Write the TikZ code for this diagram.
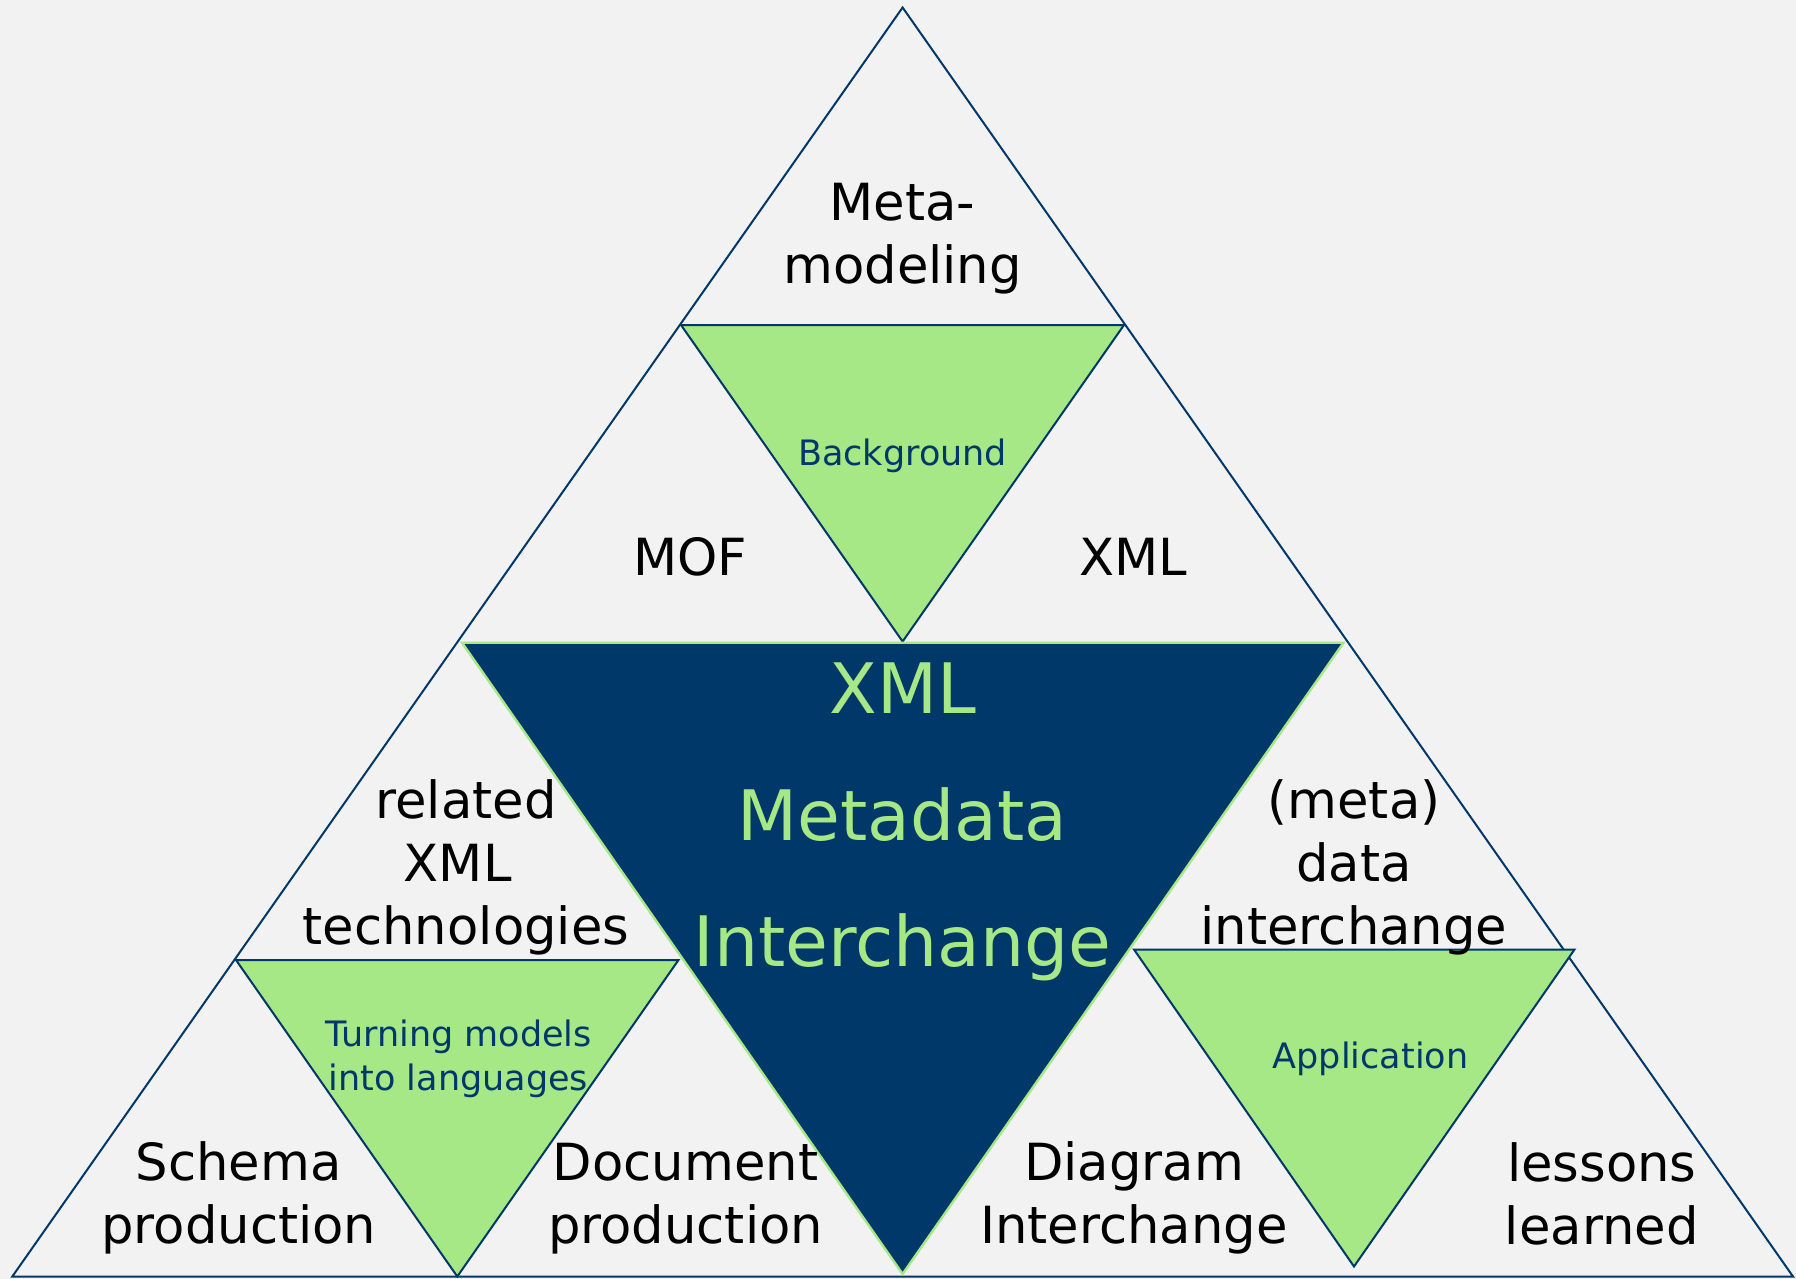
\documentclass[tikz,border=0pt]{standalone}
\usepackage{fontspec}
\setmainfont{DejaVu Sans}
\definecolor{navy}{RGB}{0,56,106}
\definecolor{leaf}{RGB}{166,232,134}
\definecolor{paper}{RGB}{242,242,242}

\begin{document}
\begin{tikzpicture}[x=0.5pt,y=-0.5pt,
  frame/.style={draw=navy,line width=1pt,line join=miter},
  greentri/.style={fill=leaf,draw=navy,line width=1pt,line join=miter},
  coretri/.style={fill=navy,draw=leaf,line width=1.2pt,line join=miter},
  lbl/.style={anchor=base,align=center,inner sep=0pt,text=black,
    font=\fontsize{25.6}{31.5}\selectfont},
  sublbl/.style={anchor=base,align=center,inner sep=0pt,text=navy,
    font=\fontsize{17.5}{22}\selectfont},
  corelbl/.style={anchor=base,inner sep=0pt,text=leaf,
    font=\fontsize{34.8}{40}\selectfont}]

% canvas
\fill[paper] (0,0) rectangle (1796,1279);
\useasboundingbox (0,0) rectangle (1796,1279);

% outer pyramid
\coordinate (apex) at (902.6,7.5);
\coordinate (bl) at (12.3,1276.5);
\coordinate (br) at (1793,1276.5);
\draw[frame] (apex) -- (bl) -- (br) -- cycle;

% inverted triangles
\coordinate (t1) at (681,325);   \coordinate (t2) at (1124,325);   \coordinate (t3) at (902.6,641.5);
\coordinate (l1) at (236,960);   \coordinate (l2) at (678.5,960);  \coordinate (l3) at (457.3,1276.5);
\coordinate (r1) at (1134,949.5);\coordinate (r2) at (1574.5,949.5);\coordinate (r3) at (1354,1266.5);
\coordinate (c1) at (462,642.7); \coordinate (c2) at (1343.5,642.7);\coordinate (c3) at (902.6,1274);

\draw[greentri] (t1) -- (t2) -- (t3) -- cycle;
\draw[greentri] (l1) -- (l2) -- (l3) -- cycle;
\draw[greentri] (r1) -- (r2) -- (r3) -- cycle;
\draw[coretri] (c1) -- (c2) -- (c3) -- cycle;

% labels (multi-line nodes sit on the baseline of their last line)
\node[lbl] (meta) at (902.6,283.3) {Meta-\\modeling};
\node[lbl] (mof) at (690,575) {MOF};
\node[lbl] (xml) at (1133,575) {XML};
\node[sublbl] (bg) at (902.6,465) {Background};

\node[lbl] (rel) at (466,944.3) {related\\XML\kern8.3pt\\technologies};
\node[lbl] (dix) at (1354,944.3) {(meta)\\data\\interchange};

\node[sublbl] (turn) at (458.5,1090.7) {Turning models\\into languages};
\node[sublbl] (app) at (1370.5,1068.3) {Application};

\node[lbl] (schema) at (238.7,1243.3) {Schema\\production};
\node[lbl] (doc) at (685.5,1243.3) {Document\\production};
\node[lbl] (dia) at (1134,1243.3) {Diagram\\Interchange};
\node[lbl] (les) at (1601.8,1244.5) {lessons\\learned};

\node[corelbl] (cx) at (902.6,713.3) {XML};
\node[corelbl] (cm) at (902.6,840) {Metadata};
\node[corelbl] (ci) at (902.6,966.7) {Interchange};
\end{tikzpicture}
\end{document}
